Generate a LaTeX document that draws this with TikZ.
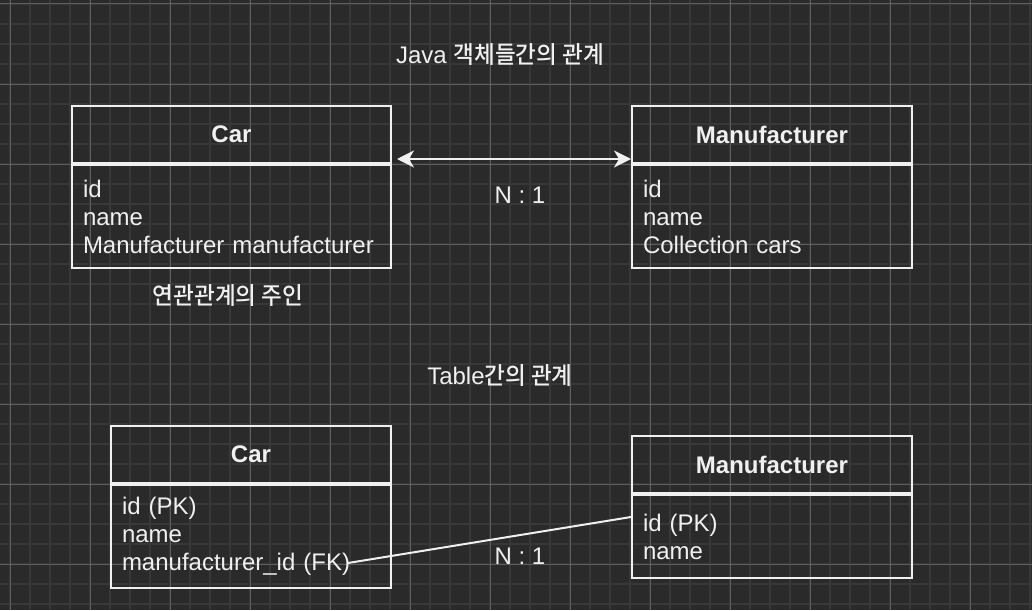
\documentclass[tikz,border=0pt]{standalone}
\usepackage{fontspec}
\setmainfont{Liberation Sans}
\newfontfamily\kr[FakeStretch=0.94]{Noto Sans CJK KR Medium}
\usetikzlibrary{arrows.meta,positioning}
\definecolor{canvas}{HTML}{2A2A2A}
\definecolor{minorgrid}{HTML}{383838}
\definecolor{majorgrid}{HTML}{5E5E5E}
\definecolor{ink}{HTML}{F0F0F0}
\tikzstyle{header}=[
	rectangle,
	draw=ink,
	line width=2pt,
	text=ink,
	font=\bfseries\fontsize{24}{28}\selectfont,
	minimum height=57pt,
	inner sep=0pt
]
\tikzstyle{fields}=[
	rectangle,
	draw=ink,
	line width=2pt,
	text=ink,
	font=\fontsize{24}{28}\selectfont,
	align=left,
	inner xsep=11pt,
	inner ysep=0pt,
	node distance=0pt
]
\tikzstyle{caption}=[
	text=ink,
	font=\fontsize{24}{28}\selectfont,
	inner sep=0pt
]
\tikzstyle{relation}=[
	draw=ink,
	line width=2pt
]
\begin{document}
\begin{tikzpicture}[x=1pt,y=-1pt]
\useasboundingbox (0,0) rectangle (1032,610);
\fill[canvas] (0,0) rectangle (1032,610);
% grid
\foreach \x in {10,30,...,1030}
	\draw[minorgrid,line width=1.5pt] (\x,0) -- (\x,610);
\foreach \y in {4,24,...,604}
	\draw[minorgrid,line width=1.5pt] (0,\y) -- (1032,\y);
\foreach \x in {10,90,...,1030}
	\draw[majorgrid,line width=1pt] (\x,0) -- (\x,610);
\foreach \y in {4,84,...,604}
	\draw[majorgrid,line width=1pt] (0,\y) -- (1032,\y);

% Java objects
\node [caption] (javaTitle) at (500,55) {Java {\kr 객체들간의 관계}};
\node [header, minimum width=319pt, anchor=north west] (carObj) at (71,105) {Car};
\node [fields, minimum width=319pt, minimum height=103pt, text width=297pt] (carObjBody)[below=of carObj]
	{id\\name\\Manufacturer manufacturer};
\node [header, minimum width=280pt, anchor=north west] (manObj) at (631,105) {Manufacturer};
\node [fields, minimum width=280pt, minimum height=103pt, text width=258pt] (manObjBody)[below=of manObj]
	{id\\name\\Collection cars};
\draw [relation, {Stealth[length=17pt,width=17pt,inset=5pt]}-{Stealth[length=17pt,width=17pt,inset=5pt]}]
	([xshift=5pt,yshift=5pt]carObj.south east) -- ([yshift=5pt]manObj.south west);
\node [caption] (objRatio) at (520,195) {N : 1};
\node [caption] (owner) at (228,296) {\kr 연관관계의 주인};

% tables
\node [caption] (tableTitle) at (500,376) {Table{\kr 간의 관계}};
\node [header, minimum width=280pt, anchor=north west] (carTbl) at (110,425) {Car};
\node [fields, minimum width=280pt, minimum height=103pt, text width=258pt] (carTblBody)[below=of carTbl]
	{id (PK)\\name\\manufacturer\_id (FK)};
\node [header, minimum width=280pt, anchor=north west] (manTbl) at (631,435) {Manufacturer};
\node [fields, minimum width=280pt, minimum height=83pt, text width=258pt] (manTblBody)[below=of manTbl]
	{id (PK)\\name};
\coordinate (fk) at (348,563);
\coordinate (pk) at (631,517);
\draw [relation] (fk) -- (pk);
\node [caption] (tblRatio) at (520,556) {N : 1};
\end{tikzpicture}
\end{document}
